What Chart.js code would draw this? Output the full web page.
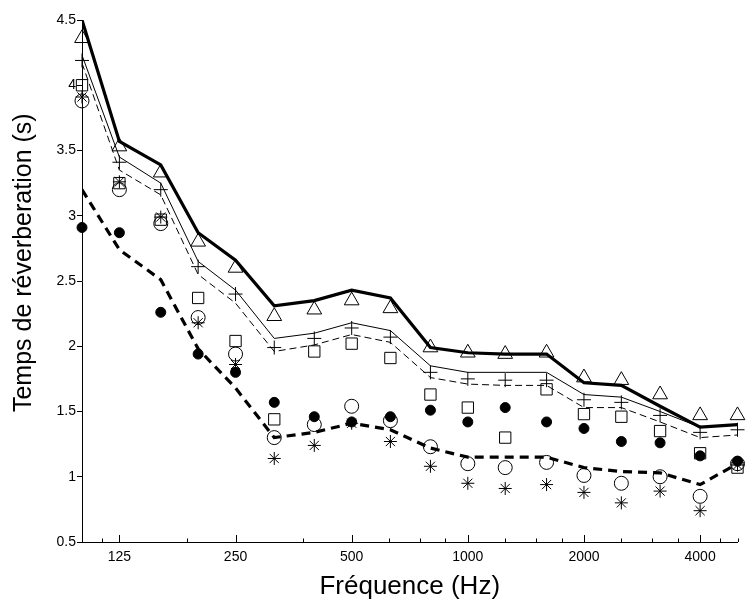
<!DOCTYPE html>
<html>
<head>
<meta charset="utf-8">
<script src="https://cdn.jsdelivr.net/npm/chart.js@4/dist/chart.umd.min.js"></script>
<style>
html,body{margin:0;padding:0;background:#fff;}
#wrap{width:747px;height:603px;position:relative;}
</style>
</head>
<body>
<div id="wrap"><canvas id="c"></canvas></div>
<script>
// Third-octave band centre frequencies (Hz)
const freqs = [100,125,160,200,250,315,400,500,630,800,1000,1250,1600,2000,2500,3150,4000,5000];

// Lines
const thickSolid  = [4.50,3.57,3.39,2.87,2.66,2.31,2.35,2.43,2.37,1.99,1.95,1.94,1.94,1.72,1.70,1.54,1.38,1.40];
const thinSolid   = [4.23,3.45,3.25,2.65,2.43,2.06,2.10,2.18,2.12,1.85,1.80,1.80,1.80,1.63,1.61,1.50,1.38,1.40];
const thinDashed  = [4.17,3.35,3.16,2.55,2.33,1.96,2.01,2.09,2.03,1.76,1.71,1.70,1.70,1.53,1.53,1.42,1.30,1.32];
const thickDashed = [3.20,2.74,2.51,1.98,1.68,1.30,1.34,1.41,1.36,1.22,1.15,1.15,1.15,1.07,1.04,1.03,0.94,1.10];

// Markers
const triangles  = [4.36,3.53,3.33,2.80,2.60,2.23,2.28,2.35,2.29,1.99,1.95,1.94,1.95,1.76,1.74,1.63,1.47,1.47];
const plusMarks  = [4.19,3.41,3.20,2.61,2.40,1.99,2.06,2.14,2.07,1.80,1.75,1.74,1.74,1.59,1.57,1.47,1.34,1.36];
const squares    = [4.00,3.25,2.97,2.37,2.04,1.44,1.96,2.02,1.91,1.63,1.53,1.30,1.67,1.48,1.46,1.35,1.18,1.07];
const circles    = [3.88,3.20,2.94,2.22,1.94,1.30,1.40,1.54,1.43,1.23,1.10,1.07,1.11,1.01,0.95,1.00,0.85,1.10];
const asterisks  = [3.91,3.26,2.99,2.18,1.86,1.14,1.24,1.41,1.27,1.08,0.95,0.91,0.94,0.88,0.80,0.89,0.74,1.09];
const filledDots = [2.91,2.87,2.26,1.94,1.80,1.57,1.46,1.42,1.46,1.51,1.42,1.53,1.42,1.37,1.27,1.26,1.16,1.12];

// Ticks
const xMajorTicks = [125,250,500,1000,2000,4000];
const xMajorLabels = ['125','250','500','1000','2000','4000'];
const xMinorTicks = [112.5,187.5,375,625,750,875,1250,1500,1750,2500,3000,3500,4500,5000];
const yTickValues = [0.5,1,1.5,2,2.5,3,3.5,4,4.5];
const yTickLabels = ['0.5','1','1.5','2','2.5','3','3.5','4','4.5'];

const xTitle = 'Fréquence (Hz)';
const yTitle = 'Temps de réverberation (s)';

const FONT = "'Liberation Sans', Arial, Helvetica, sans-serif";
const pts = arr => freqs.map((f,i)=>({x:f, y:arr[i]}));
const NONE = 'rgba(0,0,0,0)';

function lineDS(arr, width, dash){
  return {data: pts(arr), borderColor:'#000', borderWidth: width, borderDash: dash,
          pointRadius:0, pointHoverRadius:0, fill:false, tension:0, showLine:true};
}
function markDS(arr, style, r, fillColor){
  return {data: pts(arr), showLine:false, pointStyle: style, pointRadius: r, pointHoverRadius: r,
          pointBorderColor:'#000', pointBackgroundColor: fillColor || NONE, pointBorderWidth:1,
          borderColor:'#000', backgroundColor: fillColor || NONE, clip:false};
}

const inwardTicks = {
  id:'inwardTicks',
  afterDraw(chart){
    const sx = chart.scales.x, ctx = chart.ctx, bottom = chart.chartArea.bottom;
    ctx.save();
    ctx.strokeStyle = '#000'; ctx.lineWidth = 1;
    sx.ticks.forEach(t=>{
      const px = Math.round(sx.getPixelForValue(t.value)) + 0.5;
      const len = xMajorTicks.includes(t.value) ? 7 : 3.5;
      ctx.beginPath(); ctx.moveTo(px, bottom); ctx.lineTo(px, bottom - len); ctx.stroke();
    });
    // y axis title, drawn slightly above centre as in the reference
    const sy = chart.scales.y;
    ctx.fillStyle = '#000';
    ctx.font = "25px " + FONT;
    ctx.textAlign = 'center'; ctx.textBaseline = 'middle';
    ctx.translate(24, sy.getPixelForValue(2.64));
    ctx.rotate(-Math.PI/2);
    ctx.fillText(yTitle, 0, 0);
    ctx.restore();
  }
};

new Chart(document.getElementById('c'), {
  type:'line',
  data:{ datasets:[
    lineDS(thickSolid, 3.2, []),
    lineDS(thinSolid, 1, []),
    lineDS(thinDashed, 1, [7,4]),
    lineDS(thickDashed, 3.2, [9,6]),
    markDS(triangles, 'triangle', 8.5),
    markDS(plusMarks, 'cross', 7),
    markDS(squares, 'rect', 8),
    markDS(circles, 'circle', 7),
    markDS(asterisks, 'star', 6.5),
    markDS(filledDots, 'circle', 5, '#000')
  ]},
  options:{
    responsive:true, maintainAspectRatio:false, animation:false,
    layout:{padding:{top:20,right:0,left:0,bottom:0}},
    plugins:{legend:{display:false}, tooltip:{enabled:false}},
    events:[],
    scales:{
      x:{
        type:'logarithmic', position:'bottom', min:100, max:5000,
        afterBuildTicks(scale){
          scale.ticks = [...xMajorTicks, ...xMinorTicks].sort((a,b)=>a-b).map(v=>({value:v}));
        },
        afterFit(scale){ scale.height = 61; },
        grid:{display:true, drawOnChartArea:false, drawTicks:false, color:'#000'},
        border:{display:true, color:'#000', width:1},
        ticks:{
          autoSkip:false, maxRotation:0, minRotation:0, padding:7, color:'#000',
          font:{family:FONT, size:14},
          callback(v){ const i = xMajorTicks.indexOf(v); return i>=0 ? xMajorLabels[i] : ''; }
        },
        title:{display:true, text:xTitle, color:'#000',
               font:{family:FONT, size:26}, padding:{top:0,bottom:1}}
      },
      y:{
        type:'linear', min:0.5, max:4.5,
        afterBuildTicks(scale){ scale.ticks = yTickValues.map(v=>({value:v})); },
        afterFit(scale){ scale.width = 82; },
        grid:{display:true, drawOnChartArea:false, drawTicks:true, tickLength:5, color:'#000'},
        border:{display:true, color:'#000', width:1},
        ticks:{
          padding:1, color:'#000', font:{family:FONT, size:14},
          callback(v){ const i = yTickValues.indexOf(v); return i>=0 ? yTickLabels[i] : ''; }
        },
        title:{display:false}
      }
    }
  },
  plugins:[inwardTicks]
});
</script>
</body>
</html>
